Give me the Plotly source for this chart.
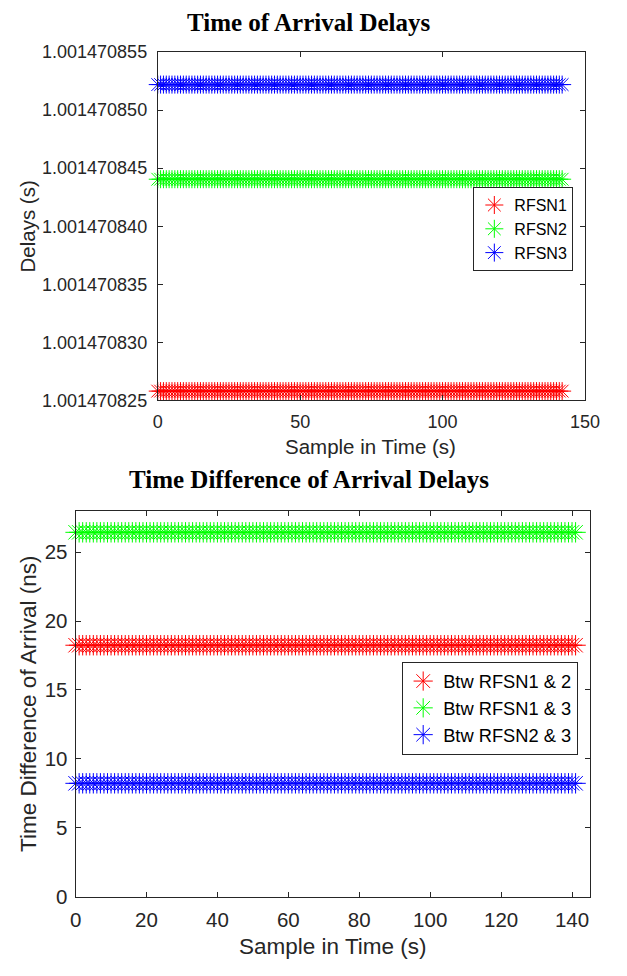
import plotly.graph_objects as go

# ---------------- data ----------------
toa_samples = list(range(143))
toa_rfsn1 = [1.0014708258] * 143
toa_rfsn2 = [1.00147084405] * 143
toa_rfsn3 = [1.0014708522] * 143
toa_names = ["RFSN1", "RFSN2", "RFSN3"]

tdoa_samples = list(range(142))
tdoa_12 = [18.25] * 142
tdoa_13 = [26.45] * 142
tdoa_23 = [8.22] * 142
tdoa_names = ["Btw RFSN1 & 2", "Btw RFSN1 & 3", "Btw RFSN2 & 3"]

top_yticks = [1.001470825, 1.001470830, 1.001470835, 1.001470840, 1.001470845, 1.001470850, 1.001470855]
top_yticklabels = ["1.001470825", "1.001470830", "1.001470835", "1.001470840",
                   "1.001470845", "1.001470850", "1.001470855"]
top_xticks = [0, 50, 100, 150]
bot_xticks = [0, 20, 40, 60, 80, 100, 120, 140]
bot_yticks = [0, 5, 10, 15, 20, 25]

colors = ["#ff0000", "#00ff00", "#0000ff"]

W, H = 627, 976
SANS = "Liberation Sans, Arial, Helvetica, sans-serif"
SERIF = "Liberation Serif, Times New Roman, serif"
AX = "#262626"

fig = go.Figure()

def mk(color, size):
    return dict(symbol="asterisk-open", size=size, color=color,
                line=dict(width=1, color=color))

for ys, nm, c in zip([toa_rfsn1, toa_rfsn2, toa_rfsn3], toa_names, colors):
    fig.add_trace(go.Scatter(x=toa_samples, y=ys, mode="markers", name=nm,
                             marker=mk(c, 15), cliponaxis=False,
                             xaxis="x", yaxis="y", legend="legend"))

for ys, nm, c in zip([tdoa_12, tdoa_13, tdoa_23], tdoa_names, colors):
    fig.add_trace(go.Scatter(x=tdoa_samples, y=ys, mode="markers", name=nm,
                             marker=mk(c, 17), cliponaxis=False,
                             xaxis="x2", yaxis="y2", legend="legend2"))

def px_x(p):
    return p / W

def px_y(p):
    return 1 - p / H

axis_common = dict(showgrid=False, zeroline=False, showline=True, linecolor=AX,
                   linewidth=1, mirror="ticks", ticks="inside", ticklen=5,
                   tickcolor=AX, tickwidth=1)

fig.update_layout(
    width=W, height=H,
    margin=dict(l=0, r=0, t=0, b=0),
    paper_bgcolor="white", plot_bgcolor="white",
    xaxis=dict(domain=[px_x(157), px_x(599)], range=[0, 150], anchor="y",
               tickvals=top_xticks, tickfont=dict(family=SANS, size=18, color=AX),
               ticklabelstandoff=5, **axis_common),
    yaxis=dict(domain=[px_y(399), px_y(43)], range=[1.001470825, 1.001470855], anchor="x",
               tickvals=top_yticks, ticktext=top_yticklabels,
               tickfont=dict(family=SANS, size=18, color=AX),
               ticklabelstandoff=6, **axis_common),
    xaxis2=dict(domain=[px_x(72), px_x(604)], range=[0, 145], anchor="y2",
                tickvals=bot_xticks, tickfont=dict(family=SANS, size=20.5, color=AX),
                ticklabelstandoff=5, **axis_common),
    yaxis2=dict(domain=[px_y(906), px_y(512)], range=[0, 28], anchor="x2",
                tickvals=bot_yticks, tickfont=dict(family=SANS, size=20.5, color=AX),
                ticklabelstandoff=3, **axis_common),
    legend=dict(x=px_x(587), y=px_y(181), xanchor="right", yanchor="top",
                bordercolor=AX, borderwidth=1, bgcolor="white",
                font=dict(family=SANS, size=16, color="black"),
                tracegroupgap=0, itemsizing="trace"),
    legend2=dict(x=px_x(592), y=px_y(666), xanchor="right", yanchor="top",
                 bordercolor=AX, borderwidth=1, bgcolor="white",
                 font=dict(family=SANS, size=18.3, color="black"),
                 tracegroupgap=0, itemsizing="trace"),
    showlegend=True,
)

annots = [
    dict(text="<b>Time of Arrival Delays</b>", x=px_x(313), y=px_y(13),
         font=dict(family=SERIF, size=25, color="black")),
    dict(text="Sample in Time (s)", x=px_x(377), y=px_y(446),
         font=dict(family=SANS, size=20.5, color=AX)),
    dict(text="Delays (s)", x=px_x(22), y=px_y(221), textangle=-90,
         font=dict(family=SANS, size=20.5, color=AX)),
    dict(text="<b>Time Difference of Arrival Delays</b>", x=px_x(313), y=px_y(480),
         font=dict(family=SERIF, size=25, color="black")),
    dict(text="Sample in Time (s)", x=px_x(338), y=px_y(957),
         font=dict(family=SANS, size=22.5, color=AX)),
    dict(text="Time Difference of Arrival (ns)", x=px_x(24), y=px_y(709), textangle=-90,
         font=dict(family=SANS, size=22.5, color=AX)),
]
for a in annots:
    fig.add_annotation(xref="paper", yref="paper", xanchor="center", yanchor="middle",
                       showarrow=False, **a)

fig.write_html("out.html")
